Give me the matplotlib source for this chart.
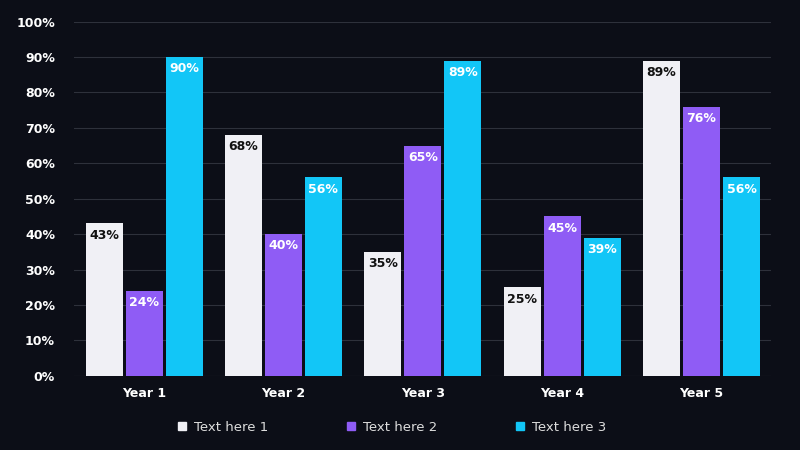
import numpy as np
import matplotlib.pyplot as plt
from matplotlib.patches import Patch

categories = ['Year 1', 'Year 2', 'Year 3', 'Year 4', 'Year 5']
series_names = ['Text here 1', 'Text here 2', 'Text here 3']
series1 = [43, 68, 35, 25, 89]
series2 = [24, 40, 65, 45, 76]
series3 = [90, 56, 89, 39, 56]

colors = ['#f0f0f5', '#8f5cf5', '#12c6f7']
label_colors = ['#111111', 'white', 'white']
bg = '#0c0e17'

fig = plt.figure(figsize=(8, 4.5), dpi=100, facecolor=bg)
ax = fig.add_axes([0.093, 0.165, 0.871, 0.787], facecolor=bg)

x = np.arange(len(categories))
width = 0.265
step = 0.287
for i, (vals, name) in enumerate(zip([series1, series2, series3], series_names)):
    pos = x + (i - 1) * step
    ax.bar(pos, vals, width, color=colors[i], zorder=3, label=name)
    for p, v in zip(pos, vals):
        ax.text(p, v - 1.5, f'{v}%', ha='center', va='top', color=label_colors[i],
                fontsize=9, fontweight='bold', zorder=4)

ax.set_ylim(0, 100)
ax.set_xlim(-0.5, 4.5)
ax.set_yticks(range(0, 101, 10))
ax.set_yticklabels([f'{t}%' for t in range(0, 101, 10)], color='white', fontsize=9, fontweight='bold')
ax.set_xticks(x)
ax.set_xticklabels(categories, color='white', fontsize=9, fontweight='bold')
ax.grid(axis='y', color='#2e313b', linewidth=0.8, zorder=0)
ax.tick_params(axis='y', length=0, pad=14)
ax.tick_params(axis='x', length=0, pad=8)
for s in ax.spines.values():
    s.set_visible(False)
ax.axhline(0, color='#2e313b', linewidth=0.8, zorder=2)

handles = [Patch(color=c) for c in colors]
fig.legend(handles, series_names, loc='lower center', bbox_to_anchor=(0.49, 0.01), ncol=3,
           frameon=False, labelcolor='#dddddd', fontsize=9.5, handlelength=0.6,
           handleheight=0.6, columnspacing=6, handletextpad=0.6)

fig.savefig('out.png', facecolor=bg)
